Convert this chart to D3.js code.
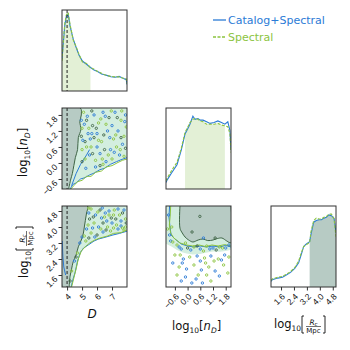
<!DOCTYPE html>
<html>
<head>
<meta charset="utf-8">
<script src="https://cdn.jsdelivr.net/npm/d3@7"></script>
<style>
  body { margin: 0; background: #fff; }
  svg { display: block; font-family: "DejaVu Sans", sans-serif; }
</style>
</head>
<body>
<div id="corner"></div>
<script>
// 1D marginals (normalised density)
var dGrid  = [3.66, 3.75, 3.85, 3.95, 4.07, 4.2, 4.41, 4.6, 4.8, 5.02, 5.3, 5.56, 5.8, 6.04, 6.3, 6.5, 6.7, 6.93, 7.2, 7.47, 7.7, 7.95, 8.0];
var dBlue  = [0.39, 0.6, 0.82, 0.92, 0.95, 0.8, 0.64, 0.54, 0.44, 0.37, 0.33, 0.29, 0.26, 0.24, 0.21, 0.2, 0.19, 0.175, 0.17, 0.18, 0.16, 0.14, 0.08];
var dGreen = [0.37, 0.62, 0.84, 0.94, 0.97, 0.82, 0.63, 0.55, 0.45, 0.36, 0.34, 0.29, 0.27, 0.24, 0.22, 0.2, 0.19, 0.18, 0.175, 0.175, 0.16, 0.15, 0.09];

var nGrid  = [-1.02, -0.97, -0.75, -0.5, -0.3, -0.12, 0.0, 0.11, 0.25, 0.35, 0.49, 0.6, 0.73, 0.9, 1.06, 1.25, 1.43, 1.6, 1.76, 1.9, 2.0, 2.05];
var nBlue  = [0.08, 0.11, 0.2, 0.3, 0.48, 0.68, 0.74, 0.8, 0.9, 0.86, 0.87, 0.85, 0.85, 0.83, 0.81, 0.82, 0.84, 0.82, 0.8, 0.83, 0.72, 0.48];
var nGreen = [0.1, 0.13, 0.23, 0.33, 0.5, 0.7, 0.76, 0.82, 0.86, 0.87, 0.86, 0.84, 0.83, 0.8, 0.8, 0.8, 0.81, 0.79, 0.78, 0.77, 0.68, 0.45];

var rGrid  = [0.98, 1.06, 1.4, 1.69, 1.95, 2.19, 2.45, 2.69, 2.85, 3.0, 3.15, 3.37, 3.45, 3.62, 3.78, 3.94, 4.1, 4.25, 4.4, 4.56, 4.72, 4.88, 5.0];
var rBlue  = [0.07, 0.09, 0.11, 0.12, 0.15, 0.18, 0.23, 0.3, 0.4, 0.5, 0.53, 0.56, 0.65, 0.8, 0.82, 0.83, 0.83, 0.85, 0.86, 0.89, 0.88, 0.85, 0.67];
var rGreen = [0.08, 0.1, 0.12, 0.13, 0.16, 0.19, 0.24, 0.32, 0.42, 0.5, 0.52, 0.55, 0.68, 0.82, 0.85, 0.84, 0.84, 0.86, 0.87, 0.9, 0.9, 0.84, 0.62];

var dFill = [3.66, 5.56];
var nFill = [-0.12, 1.76];
var rFill = [3.37, 5.0];
var dTruth = 4.0;

// 2D panel: D vs log nD
var dnDark  = [[3.66,-0.975],[3.66,2.06],[4.88,2.06],[4.95,1.8],[4.85,1.55],[4.92,1.25],[4.75,0.95],[4.7,0.5],[4.55,0.2],[4.45,-0.1],[4.35,-0.4],[4.25,-0.6],[4.1,-0.975]];
var dnBlue  = [[4.2,-0.975],[4.4,-0.8],[4.6,-0.75],[4.9,-0.6],[5.2,-0.55],[5.5,-0.45],[5.8,-0.38],[6.2,-0.25],[6.5,-0.2],[6.9,-0.05],[7.3,0.05],[7.6,0.12],[8.0,0.2]];
var dnGreen = [[4.25,-0.975],[4.45,-0.85],[4.7,-0.7],[5.0,-0.65],[5.3,-0.5],[5.6,-0.5],[5.9,-0.35],[6.3,-0.3],[6.6,-0.15],[7.0,-0.1],[7.4,0.02],[7.7,0.1],[8.0,0.15]];
var dnInner = [[4.3,-0.85],[4.6,-0.4],[4.9,-0.05],[5.3,0.3],[5.5,0.5]];
var dnBlobs = [[5.1,1.9,1],[5.3,1.6,2],[5.0,1.3,1],[5.4,1.1,0],[5.2,0.8,2],[5.6,0.6,1],[5.5,0.3,0],[5.9,0.1,1],[6.2,-0.1,2],[6.6,0.05,0],
               [7.0,0.15,1],[7.5,0.3,0],[7.8,0.25,1],[5.8,1.8,0],[6.1,1.5,1],[6.4,1.9,0],[6.8,1.7,2],[7.2,1.9,0],[7.6,1.6,1],[7.9,1.8,0],
               [6.0,1.1,0],[6.3,0.8,1],[6.7,1.2,0],[7.1,0.9,1],[7.4,1.2,0],[7.8,1.0,1],[6.5,0.5,2],[6.9,0.5,0],[7.3,0.6,1],[7.7,0.7,0],
               [5.7,1.4,2],[5.35,1.75,0],[6.2,0.35,0],[5.0,0.5,1],[4.95,1.0,2],[5.2,0.15,1],[7.95,1.35,1],[5.8,0.95,2],[6.6,1.45,1],[7.0,1.4,0],
               [5.05,0.85,0],[5.15,1.45,0],[5.45,1.3,1],[5.65,1.1,0],[5.95,1.3,2],[6.25,1.65,1],[6.55,1.75,0],[6.95,1.95,1],[7.35,1.7,2],[7.65,1.95,1],
               [7.85,1.55,0],[5.3,0.6,1],[5.7,0.35,2],[6.0,0.6,0],[6.35,0.15,1],[6.75,0.3,1],[7.15,0.4,0],[7.55,0.5,1],[7.9,0.55,2],[6.1,0.85,1],
               [6.45,1.05,2],[6.85,0.95,0],[7.25,1.05,1],[7.6,0.95,2],[5.55,0.9,0],[5.9,-0.15,0],[6.4,-0.05,1],[5.25,-0.2,0],[5.0,0.05,2],[4.95,1.6,0],
               [5.65,1.95,2]];

// 2D panel: D vs log Rc
var drDark  = [[3.66,1.0],[3.66,5.05],[5.36,5.05],[5.3,4.7],[5.22,4.33],[5.15,4.0],[5.09,3.7],[4.95,3.35],[4.75,3.01],[4.6,2.6],[4.41,2.27],[4.3,1.9],[4.2,1.54],[4.14,1.0]];
var drBlue  = [[4.27,1.0],[4.4,1.4],[4.54,1.74],[4.7,2.3],[4.88,2.72],[5.1,2.95],[5.43,3.11],[5.8,3.3],[6.11,3.4],[6.6,3.5],[7.06,3.6],[7.5,3.68],[8.0,3.79]];
var drGreen = [[4.3,1.0],[4.45,1.45],[4.6,1.9],[4.75,2.4],[4.95,2.8],[5.2,3.0],[5.5,3.2],[5.85,3.35],[6.2,3.45],[6.7,3.55],[7.1,3.68],[7.6,3.72],[8.0,3.85]];
var drInner = [[3.68,3.3],[3.7,2.9],[3.72,2.5],[3.78,2.0],[3.9,1.6]];
var drBlobs = [[5.6,4.9,1],[5.9,4.6,0],[6.2,4.85,2],[6.5,4.5,1],[6.8,4.8,0],[7.1,4.6,1],[7.4,4.9,0],[7.7,4.7,2],[7.9,4.4,1],[5.5,4.4,2],
               [5.8,4.2,1],[6.1,4.0,0],[6.4,4.2,2],[6.7,4.0,1],[7.0,4.2,0],[7.3,4.1,1],[7.6,4.3,0],[7.9,4.0,1],[5.3,3.9,0],[5.6,3.7,1],
               [6.0,3.6,2],[6.4,3.75,0],[6.9,3.8,1],[7.4,3.9,0],[7.8,3.85,1],[5.25,3.3,1],[5.0,3.5,0],[4.7,2.7,1],[4.5,2.3,0],[4.3,1.8,1],
               [4.2,1.3,2],[6.55,4.7,0],[7.25,4.4,2],[5.45,4.95,1],[5.45,4.7,0],[5.75,4.5,2],[6.05,4.75,1],[6.35,4.95,0],[6.65,4.3,0],[6.95,4.45,2],
               [7.15,4.85,1],[7.5,4.6,1],[7.8,4.85,0],[5.4,4.1,1],[5.7,3.95,0],[6.25,3.9,1],[6.6,3.85,2],[7.1,3.95,1],[7.6,4.05,0],[7.95,4.2,2],
               [5.15,3.55,1],[5.45,3.45,2],[5.85,3.5,0],[6.8,4.6,1],[6.3,4.45,0],[7.7,3.95,1],[4.85,3.2,0],[4.6,2.5,2]];

// 2D panel: log nD vs log Rc
var nrDark  = [[-0.36,5.05],[-0.36,3.94],[-0.25,3.7],[-0.12,3.5],[0.05,3.35],[0.25,3.25],[0.5,3.35],[0.73,3.4],[0.95,3.32],[1.2,3.35],[1.4,3.42],[1.62,3.45],[1.85,3.3],[2.05,3.21],[2.05,5.05]];
var nrMint  = [[-1.02,5.05],[2.05,5.05],[2.05,2.86],[1.8,2.8],[1.53,2.76],[1.2,2.78],[0.91,2.72],[0.6,2.65],[0.25,2.62],[-0.05,2.68],[-0.22,2.72],[-0.5,2.85],[-0.74,3.01],[-1.02,3.16]];
var nrBlue  = [[-0.85,5.05],[-0.88,4.5],[-0.83,4.0],[-0.78,3.6],[-0.6,3.4],[-0.3,3.15],[0.0,3.05],[0.3,3.0],[0.6,3.05],[0.9,3.0],[1.2,3.05],[1.5,3.0],[1.8,3.08],[2.05,3.0]];
var nrGreen = [[-0.8,5.05],[-0.82,4.6],[-0.86,4.1],[-0.8,3.7],[-0.65,3.45],[-0.35,3.2],[-0.05,3.1],[0.25,3.05],[0.55,3.1],[0.85,3.02],[1.15,3.1],[1.45,3.05],[1.75,3.12],[2.05,3.05]];
var nrBlobs = [[-0.8,3.3,0],[-0.5,3.1,1],[-0.3,2.9,0],[0.0,2.95,2],[0.3,3.0,1],[0.6,2.9,0],[0.9,3.05,1],[1.2,2.95,0],[1.5,3.0,1],[1.8,2.95,0],
               [-0.9,4.6,0],[-0.75,4.0,1],[-0.85,3.6,0],[-0.6,2.6,1],[-0.2,2.4,0],[0.1,2.5,1],[0.45,2.55,0],[0.8,2.45,1],[1.1,2.55,0],[1.45,2.4,1],
               [1.75,2.6,0],[1.95,2.5,1],[-0.7,2.2,0],[-0.4,2.0,1],[-0.05,1.9,0],[0.3,2.1,1],[0.65,1.85,0],[1.0,2.0,1],[1.3,1.8,0],[1.7,2.1,1],
               [-0.1,1.5,0],[0.4,1.4,0],[0.9,1.6,1],[1.9,1.7,1],[0.2,1.2,0],[-0.5,1.6,1],[0.58,4.53,2],[0.21,3.75,2],[0.75,3.45,0],[1.3,3.45,2],
               [-0.95,3.9,1],[-0.7,3.25,1],[-0.4,3.0,0],[-0.1,3.2,1],[0.15,2.85,0],[0.45,3.05,2],[0.75,2.8,1],[1.05,2.9,0],[1.35,2.85,2],[1.65,2.95,1],
               [1.95,3.1,0],[-0.35,2.6,1],[0.6,2.3,0],[1.25,2.3,1],[1.6,2.35,0],[-0.25,2.2,0],[0.85,2.2,1],[0.5,1.6,1],[1.5,1.55,0],[-0.3,1.3,0],
               [1.1,1.3,1],[0.7,1.2,0]];

// axis ticks
var dTicks = [4, 5, 6, 7];
var nTicks = [-0.6, 0.0, 0.6, 1.2, 1.8];
var rTicks = [1.6, 2.4, 3.2, 4.0, 4.8];

var seriesNames = ["Catalog+Spectral", "Spectral"];

function init(){
    var w = 350, h = 350;
    var blue = "#2b7bd6", green = "#8cc43f", darkLine = "#3f6446";
    var darkFill = "#b7cbc4", mintFill = "#d3eedf", lightFill = "#e3f0d6";
    var blobColors = [blue, green, darkLine];

    var cols = [62, 166, 271];
    var rows = [10, 108, 206];
    var pw = 65, ph = 81;

    var xD = d3.scaleLinear().domain([3.66, 8.0]).range([cols[0], cols[0] + pw]);
    var xN = d3.scaleLinear().domain([-1.02, 2.05]).range([cols[1], cols[1] + pw]);
    var xR = d3.scaleLinear().domain([0.98, 5.0]).range([cols[2], cols[2] + pw]);
    var yN = d3.scaleLinear().domain([-0.975, 2.06]).range([rows[1] + ph, rows[1]]);
    var yR = d3.scaleLinear().domain([1.0, 5.05]).range([rows[2] + ph, rows[2]]);
    var yDen = rows.map(function(r) {
        return d3.scaleLinear().domain([0, 1]).range([r + ph, r]);
    });

    var svg = d3.select("#corner")
                .append("svg")
                .attr("width", w)
                .attr("height", h);

    var defs = svg.append("defs");

    function panel(id, col, row) {
        defs.append("clipPath").attr("id", id)
            .append("rect")
            .attr("x", cols[col]).attr("y", rows[row])
            .attr("width", pw).attr("height", ph);
        return svg.append("g").attr("clip-path", "url(#" + id + ")");
    }

    function zip(xs, ys) {
        return xs.map(function(x, i) { return [x, ys[i]]; });
    }

    // ---- diagonal panels
    function marginal(g, xs, ys, grid, vb, vg, fill, fillCol, fillFrom) {
        var pts = zip(grid, fillFrom === "green" ? vg : vb).filter(function(d) {
            return d[0] >= fill[0] - 1e-9 && d[0] <= fill[1] + 1e-9;
        });
        g.append("path")
            .datum(pts)
            .attr("fill", fillCol)
            .attr("d", d3.area()
                .x(function(d) { return xs(d[0]); })
                .y0(ys(0))
                .y1(function(d) { return ys(d[1]); }));
        var line = d3.line()
            .x(function(d) { return xs(d[0]); })
            .y(function(d) { return ys(d[1]); });
        g.append("path").datum(zip(grid, vb))
            .attr("fill", "none").attr("stroke", blue).attr("stroke-width", 1.1)
            .attr("d", line);
        g.append("path").datum(zip(grid, vg))
            .attr("fill", "none").attr("stroke", green).attr("stroke-width", 1.1)
            .attr("stroke-dasharray", "3,1.5")
            .attr("d", line);
    }

    var g00 = panel("c00", 0, 0);
    marginal(g00, xD, yDen[0], dGrid, dBlue, dGreen, dFill, lightFill, "green");
    var g11 = panel("c11", 1, 1);
    marginal(g11, xN, yDen[1], nGrid, nBlue, nGreen, nFill, lightFill, "green");
    var g22 = panel("c22", 2, 2);
    marginal(g22, xR, yDen[2], rGrid, rBlue, rGreen, rFill, darkFill, "blue");

    // ---- 2D panels
    function contourPanel(g, xs, ys, mint, dark, lb, lg, inner, blobs) {
        var line = d3.line()
            .x(function(d) { return xs(d[0]); })
            .y(function(d) { return ys(d[1]); });
        g.append("path").datum(mint).attr("fill", mintFill).attr("d", line);
        g.append("path").datum(dark).attr("fill", darkFill).attr("d", line);
        g.append("path").datum(dark).attr("fill", "none")
            .attr("stroke", darkLine).attr("stroke-width", 1)
            .attr("d", line.curve(d3.curveCatmullRom));
        line.curve(d3.curveLinear);
        g.append("path").datum(lb).attr("fill", "none")
            .attr("stroke", blue).attr("stroke-width", 1).attr("d", line);
        g.append("path").datum(lg).attr("fill", "none")
            .attr("stroke", green).attr("stroke-width", 1).attr("d", line);
        if (inner) {
            g.append("path").datum(inner).attr("fill", "none")
                .attr("stroke", blue).attr("stroke-width", 1).attr("d", line);
        }
        g.selectAll("circle.blob")
            .data(blobs)
            .enter()
            .append("circle")
            .attr("class", "blob")
            .attr("cx", function(d) { return xs(d[0]); })
            .attr("cy", function(d) { return ys(d[1]); })
            .attr("r", 1.2)
            .attr("fill", "none")
            .attr("stroke", function(d) { return blobColors[d[2]]; })
            .attr("stroke-width", 0.9);
    }

    var dnMint = dnBlue.concat([[8.0, 2.06], [3.9, 2.06], [3.9, -0.975]]);
    var drMint = drBlue.concat([[8.0, 5.05], [3.66, 5.05], [3.66, 1.0]]);

    var g10 = panel("c10", 0, 1);
    contourPanel(g10, xD, yN, dnMint, dnDark, dnBlue, dnGreen, dnInner, dnBlobs);
    var g20 = panel("c20", 0, 2);
    contourPanel(g20, xD, yR, drMint, drDark, drBlue, drGreen, drInner, drBlobs);
    var g21 = panel("c21", 1, 2);
    contourPanel(g21, xN, yR, nrMint, nrDark, nrBlue, nrGreen, null, nrBlobs);

    // truth line at D = 4
    [0, 1, 2].forEach(function(r) {
        svg.append("line")
            .attr("x1", xD(dTruth)).attr("x2", xD(dTruth))
            .attr("y1", rows[r]).attr("y2", rows[r] + ph)
            .attr("stroke", "#222").attr("stroke-width", 1)
            .attr("stroke-dasharray", "3,2");
    });

    // frames
    var frames = [[0,0],[0,1],[1,1],[0,2],[1,2],[2,2]];
    svg.selectAll("rect.frame")
        .data(frames)
        .enter()
        .append("rect")
        .attr("class", "frame")
        .attr("x", function(d) { return cols[d[0]]; })
        .attr("y", function(d) { return rows[d[1]]; })
        .attr("width", pw).attr("height", ph)
        .attr("fill", "none").attr("stroke", "#333").attr("stroke-width", 1);

    // ---- axes
    var fmt1 = function(d) { return d3.format(".1f")(d).replace("-", "\u2212"); };

    function styleX(g) {
        g.select(".domain").remove();
        g.selectAll("line").attr("stroke", "#333");
        g.selectAll("text")
            .attr("x", 0).attr("y", 0).attr("dy", "0.35em")
            .attr("transform", "translate(2,8) rotate(-45)")
            .style("text-anchor", "end")
            .style("font-size", "8.5px")
            .attr("fill", "#111");
    }
    function styleY(g) {
        g.select(".domain").remove();
        g.selectAll("line").attr("stroke", "#333");
        g.selectAll("text")
            .attr("x", 0).attr("y", 0).attr("dy", "0.35em")
            .attr("transform", "translate(-6,2) rotate(-45)")
            .style("text-anchor", "end")
            .style("font-size", "8.5px")
            .attr("fill", "#111");
    }

    svg.append("g")
        .attr("transform", "translate(0," + (rows[2] + ph) + ")")
        .call(d3.axisBottom(xD).tickValues(dTicks).tickSize(3.5).tickFormat(d3.format("d")))
        .call(styleX);
    svg.append("g")
        .attr("transform", "translate(0," + (rows[2] + ph) + ")")
        .call(d3.axisBottom(xN).tickValues(nTicks).tickSize(3.5).tickFormat(fmt1))
        .call(styleX);
    svg.append("g")
        .attr("transform", "translate(0," + (rows[2] + ph) + ")")
        .call(d3.axisBottom(xR).tickValues(rTicks).tickSize(3.5).tickFormat(fmt1))
        .call(styleX);
    svg.append("g")
        .attr("transform", `translate(${cols[0]}, 0)`)
        .call(d3.axisLeft(yN).tickValues(nTicks).tickSize(3.5).tickFormat(fmt1))
        .call(styleY);
    svg.append("g")
        .attr("transform", `translate(${cols[0]}, 0)`)
        .call(d3.axisLeft(yR).tickValues(rTicks).tickSize(3.5).tickFormat(fmt1))
        .call(styleY);

    // ---- axis labels
    function nLabel(g) {
        var t = g.append("text").style("font-size", "11.5px").attr("fill", "#111");
        t.append("tspan").text("log");
        t.append("tspan").text("10").style("font-size", "7.5px").attr("dy", 3);
        t.append("tspan").text("[").attr("dy", -3);
        t.append("tspan").text("n").style("font-style", "italic");
        t.append("tspan").text("D").style("font-style", "italic").style("font-size", "7.5px").attr("dy", 3);
        t.append("tspan").text("]").attr("dy", -3);
    }
    function rLabel(g) {
        var t = g.append("text").style("font-size", "11.5px").attr("fill", "#111");
        t.append("tspan").text("log");
        t.append("tspan").text("10").style("font-size", "7.5px").attr("dy", 3);
        g.append("path").attr("d", "M30,-12h-2v17h2").attr("fill", "none").attr("stroke", "#111").attr("stroke-width", 0.9);
        g.append("path").attr("d", "M49,-12h2v17h-2").attr("fill", "none").attr("stroke", "#111").attr("stroke-width", 0.9);
        var top = g.append("text").attr("x", 39.5).attr("y", -3.5).style("font-size", "7.5px")
            .style("text-anchor", "middle").attr("fill", "#111");
        top.append("tspan").text("R").style("font-style", "italic");
        top.append("tspan").text("c").style("font-style", "italic").style("font-size", "5.5px").attr("dy", 1.5);
        g.append("line").attr("x1", 32).attr("x2", 47).attr("y1", -1.5).attr("y2", -1.5)
            .attr("stroke", "#111").attr("stroke-width", 0.6);
        g.append("text").attr("x", 39.5).attr("y", 5).style("font-size", "7px")
            .style("text-anchor", "middle").attr("fill", "#111").text("Mpc");
    }

    svg.append("text")
        .attr("x", 92).attr("y", 318)
        .style("font-size", "12px").style("font-style", "italic")
        .style("text-anchor", "middle")
        .attr("fill", "#111")
        .text("D");
    nLabel(svg.append("g").attr("transform", "translate(172,330)"));
    rLabel(svg.append("g").attr("transform", "translate(274,328)"));
    nLabel(svg.append("g").attr("transform", "translate(27,177) rotate(-90)"));
    rLabel(svg.append("g").attr("transform", "translate(28,278) rotate(-90)"));

    // ---- legend
    var legend = svg.append("g").attr("transform", "translate(213,20)");
    legend.selectAll("line")
        .data(seriesNames)
        .enter()
        .append("line")
        .attr("x1", 0).attr("x2", 13)
        .attr("y1", function(d, i) { return i * 17; })
        .attr("y2", function(d, i) { return i * 17; })
        .attr("stroke", function(d, i) { return i === 0 ? blue : green; })
        .attr("stroke-width", 1.3)
        .attr("stroke-dasharray", function(d, i) { return i === 0 ? null : "3,1.5"; });
    legend.selectAll("text")
        .data(seriesNames)
        .enter()
        .append("text")
        .attr("x", 15)
        .attr("y", function(d, i) { return i * 17 + 4; })
        .style("font-size", "11px")
        .attr("fill", function(d, i) { return i === 0 ? blue : green; })
        .text(function(d) { return d; });
}
window.onload = init;
</script>
</body>
</html>
